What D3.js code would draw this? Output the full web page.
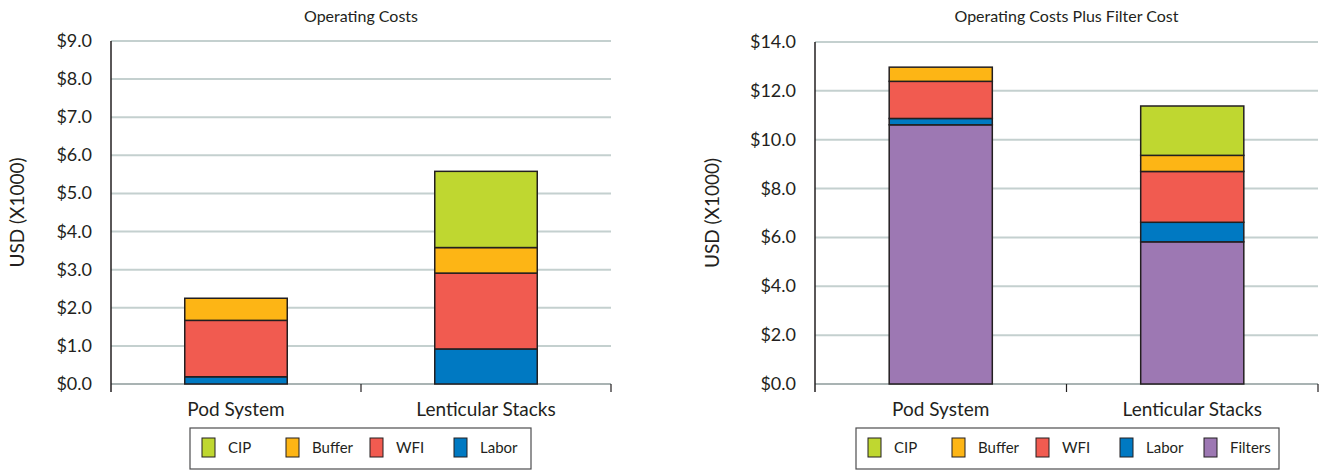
<!DOCTYPE html>
<html>
<head>
<meta charset="utf-8">
<script src="https://cdn.jsdelivr.net/npm/d3@7"></script>
<style>
  html, body { margin: 0; padding: 0; background: #fff; }
  svg { display: block; font-family: Lato, "Noto Sans", sans-serif; }
</style>
</head>
<body>
<div id="chart"></div>
<script>
// two stacked bar charts side by side
const categories = ['Pod System', 'Lenticular Stacks'];

// left: operating costs (USD x1000)
const opLabor  = [0.19, 0.92];
const opWfi    = [1.48, 1.99];
const opBuffer = [0.58, 0.67];
const opCip    = [0.00, 2.00];
const opTicks  = [0, 1, 2, 3, 4, 5, 6, 7, 8, 9];

// right: operating costs plus filter cost
const fcFilters = [10.61, 5.82];
const fcLabor   = [0.26, 0.80];
const fcWfi     = [1.52, 2.08];
const fcBuffer  = [0.58, 0.66];
const fcCip     = [0.00, 2.02];
const fcTicks   = [0, 2, 4, 6, 8, 10, 12, 14];

const colors = { CIP: '#bfd730', Buffer: '#fdb515', WFI: '#f15b50', Labor: '#0079c2', Filters: '#9d78b3' };

const svg = d3.select('#chart').append('svg').attr('width', 1322).attr('height', 471);

function drawChart(cfg) {
  const g = svg.append('g');
  const keys = cfg.keys; // bottom to top
  const rows = categories.map((c, i) => {
    const r = { cat: c };
    keys.forEach(k => { r[k] = cfg.series[k][i]; });
    return r;
  });
  const stacked = d3.stack().keys(keys)(rows);

  const x = d3.scaleBand().domain(categories).range([cfg.x0, cfg.x1]).paddingInner(0.59).paddingOuter(0.295);
  const xEdge = d3.scaleBand().domain(categories).range([cfg.x0, cfg.x1]);
  const y = d3.scaleLinear().domain([0, d3.max(cfg.ticks)]).range([384, cfg.yTop]);

  // gridlines
  g.selectAll('.grid').data(cfg.ticks).enter().append('line')
    .attr('x1', cfg.x0).attr('x2', cfg.x1)
    .attr('y1', d => y(d)).attr('y2', d => y(d))
    .attr('stroke', d => d === 0 ? '#a9b3b3' : '#c4d0cf').attr('stroke-width', 2);

  // tick labels
  g.selectAll('.ylab').data(cfg.ticks).enter().append('text')
    .attr('x', cfg.x0 - 19).attr('y', d => y(d) + 6)
    .attr('text-anchor', 'end').style('font-size', '18px').style('fill', '#231f20')
    .text(d => '$' + d3.format('.1f')(d));

  // bars
  g.selectAll('.layer').data(stacked).enter().append('g')
    .attr('fill', d => colors[d.key])
    .selectAll('rect').data(d => d.filter(p => p[1] - p[0] > 0)).enter().append('rect')
    .attr('x', d => x(d.data.cat)).attr('width', x.bandwidth())
    .attr('y', d => y(d[1])).attr('height', d => y(d[0]) - y(d[1]))
    .attr('stroke', '#231f20').attr('stroke-width', 1.5);

  // y axis line
  g.append('line').attr('x1', cfg.x0).attr('x2', cfg.x0).attr('y1', y(d3.max(cfg.ticks))).attr('y2', 392)
    .attr('stroke', '#231f20').attr('stroke-width', 1.5);

  // x ticks at band edges
  const edges = categories.map(c => xEdge(c)).concat([cfg.x1]);
  g.selectAll('.xt').data(edges.slice(1)).enter().append('line')
    .attr('x1', d => d).attr('x2', d => d).attr('y1', 384).attr('y2', 392)
    .attr('stroke', '#231f20').attr('stroke-width', 1.2);

  // category labels
  g.selectAll('.xlab').data(categories).enter().append('text')
    .attr('x', d => x(d) + x.bandwidth() / 2).attr('y', 416)
    .attr('text-anchor', 'middle').style('font-size', '19px').style('fill', '#231f20')
    .text(d => d);

  // title
  g.append('text').attr('x', (cfg.x0 + cfg.x1) / 2).attr('y', 22)
    .attr('text-anchor', 'middle').style('font-size', '16px').style('fill', '#231f20')
    .text(cfg.title);

  // y axis label
  g.append('text').attr('transform', `translate(${cfg.yLabelX},${(y.range()[0] + y.range()[1]) / 2}) rotate(-90)`)
    .attr('text-anchor', 'middle').style('font-size', '19px').style('fill', '#231f20')
    .text('USD (X1000)');

  // legend
  const legKeys = keys.slice().reverse();
  const lg = g.append('g');
  lg.append('rect').attr('x', cfg.legX).attr('y', 428).attr('width', cfg.legW).attr('height', 41)
    .attr('fill', '#fff').attr('stroke', '#4d4d4f').attr('stroke-width', 1.2);
  const item = lg.selectAll('.li').data(legKeys).enter().append('g')
    .attr('transform', (d, i) => `translate(${cfg.legX + 12 + i * 84},438)`);
  item.append('rect').attr('width', 13).attr('height', 19)
    .attr('fill', d => colors[d]).attr('stroke', '#231f20').attr('stroke-width', 1);
  item.append('text').attr('x', 26).attr('y', 15).style('font-size', '15px').style('fill', '#231f20')
    .text(d => d);
}

drawChart({
  title: 'Operating Costs', x0: 111, x1: 611, yTop: 41, ticks: opTicks, yLabelX: 24,
  keys: ['Labor', 'WFI', 'Buffer', 'CIP'],
  series: { Labor: opLabor, WFI: opWfi, Buffer: opBuffer, CIP: opCip },
  legX: 190, legW: 341
});

drawChart({
  title: 'Operating Costs Plus Filter Cost', x0: 815, x1: 1318, yTop: 42, ticks: fcTicks, yLabelX: 719,
  keys: ['Filters', 'Labor', 'WFI', 'Buffer', 'CIP'],
  series: { Filters: fcFilters, Labor: fcLabor, WFI: fcWfi, Buffer: fcBuffer, CIP: fcCip },
  legX: 856, legW: 423
});
</script>
</body>
</html>
